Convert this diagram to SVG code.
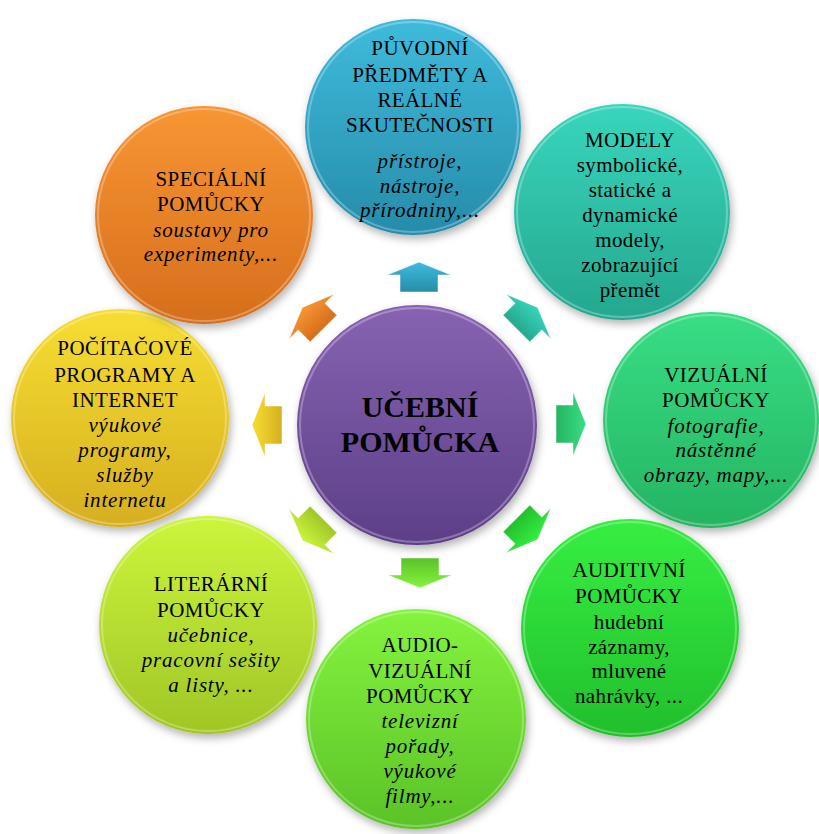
<svg xmlns="http://www.w3.org/2000/svg" width="819" height="834" viewBox="0 0 819 834">
<defs>
<style>
.t{font-family:"Liberation Serif","Times New Roman",serif;font-size:21px;fill:#000;text-anchor:middle;letter-spacing:0.4px}
.i{font-style:italic;letter-spacing:0.8px}
.c{font-family:"Liberation Serif","Times New Roman",serif;font-size:30px;font-weight:bold;fill:#000;text-anchor:middle}
.rim{fill:none;stroke:#fff;stroke-opacity:0.28;stroke-width:2}
.ar{stroke:#fff;stroke-opacity:0.5;stroke-width:1}
</style>
<filter id="sh" x="-20%" y="-20%" width="140%" height="140%">
<feDropShadow dx="2" dy="4" stdDeviation="4" flood-color="#000" flood-opacity="0.3"/>
</filter>
<linearGradient id="gB" x1="0" y1="0" x2="0" y2="1"><stop offset="0" stop-color="#3FBBDC"/><stop offset="1" stop-color="#268CAA"/></linearGradient>
<linearGradient id="gT" x1="0" y1="0" x2="0" y2="1"><stop offset="0" stop-color="#38D6BC"/><stop offset="1" stop-color="#25A78F"/></linearGradient>
<linearGradient id="gV" x1="0" y1="0" x2="0" y2="1"><stop offset="0" stop-color="#38DE85"/><stop offset="1" stop-color="#25B462"/></linearGradient>
<linearGradient id="gA" x1="0" y1="0" x2="0" y2="1"><stop offset="0" stop-color="#36EF42"/><stop offset="1" stop-color="#22BF2C"/></linearGradient>
<linearGradient id="gAV" x1="0" y1="0" x2="0" y2="1"><stop offset="0" stop-color="#84F43E"/><stop offset="1" stop-color="#5BC228"/></linearGradient>
<linearGradient id="gL" x1="0" y1="0" x2="0" y2="1"><stop offset="0" stop-color="#CCF53C"/><stop offset="1" stop-color="#A0C626"/></linearGradient>
<linearGradient id="gY" x1="0" y1="0" x2="0" y2="1"><stop offset="0" stop-color="#F7DE32"/><stop offset="1" stop-color="#D6AF20"/></linearGradient>
<linearGradient id="gO" x1="0" y1="0" x2="0" y2="1"><stop offset="0" stop-color="#F89634"/><stop offset="1" stop-color="#D56E1C"/></linearGradient>
<linearGradient id="gP" x1="0" y1="0" x2="0" y2="1"><stop offset="0" stop-color="#8763B2"/><stop offset="1" stop-color="#5C3F86"/></linearGradient>
<path id="arr" d="M0,-15 L32,-2 L19,-2 L19,15 L-19,15 L-19,-2 L-32,-2 Z"/>
</defs>

<g id="connectors">
<use href="#arr" class="ar" fill="url(#gB)" transform="translate(419,277)"/>
<use href="#arr" class="ar" fill="url(#gT)" transform="translate(527,318) rotate(45)"/>
<use href="#arr" class="ar" fill="url(#gV)" transform="translate(571,424) rotate(90)"/>
<use href="#arr" class="ar" fill="url(#gA)" transform="translate(527,529) rotate(135)"/>
<use href="#arr" class="ar" fill="url(#gAV)" transform="translate(420,573) rotate(180)"/>
<use href="#arr" class="ar" fill="url(#gL)" transform="translate(313,530) rotate(225)"/>
<use href="#arr" class="ar" fill="url(#gY)" transform="translate(267,425) rotate(270)"/>
<use href="#arr" class="ar" fill="url(#gO)" transform="translate(313,318) rotate(315)"/>
</g>

<g id="pocitacove">
<circle cx="120" cy="418" r="109" fill="url(#gY)" filter="url(#sh)"/>
<circle cx="120" cy="418" r="106" class="rim"/>
<text class="t" x="125" y="355">POČÍTAČOVÉ</text>
<text class="t" x="125" y="382">PROGRAMY A</text>
<text class="t" x="125" y="407">INTERNET</text>
<text class="t i" x="125" y="432">výukové</text>
<text class="t i" x="125" y="457">programy,</text>
<text class="t i" x="125" y="482">služby</text>
<text class="t i" x="125" y="507">internetu</text>
</g>

<g id="literarni">
<circle cx="208" cy="625" r="109" fill="url(#gL)" filter="url(#sh)"/>
<circle cx="208" cy="625" r="106" class="rim"/>
<text class="t" x="211" y="591">LITERÁRNÍ</text>
<text class="t" x="211" y="617">POMŮCKY</text>
<text class="t i" x="211" y="642">učebnice,</text>
<text class="t i" x="211" y="667">pracovní sešity</text>
<text class="t i" x="211" y="692">a listy, ...</text>
</g>

<g id="audiovizualni">
<circle cx="416" cy="719" r="110" fill="url(#gAV)" filter="url(#sh)"/>
<circle cx="416" cy="719" r="107" class="rim"/>
<text class="t" x="420" y="652">AUDIO-</text>
<text class="t" x="420" y="678">VIZUÁLNÍ</text>
<text class="t" x="420" y="703">POMŮCKY</text>
<text class="t i" x="420" y="728">televizní</text>
<text class="t i" x="420" y="753">pořady,</text>
<text class="t i" x="420" y="778">výukové</text>
<text class="t i" x="420" y="803">filmy,...</text>
</g>

<g id="auditivni">
<circle cx="630" cy="628" r="109" fill="url(#gA)" filter="url(#sh)"/>
<circle cx="630" cy="628" r="106" class="rim"/>
<text class="t" x="629" y="577">AUDITIVNÍ</text>
<text class="t" x="629" y="603">POMŮCKY</text>
<text class="t" x="629" y="629">hudební</text>
<text class="t" x="629" y="654">záznamy,</text>
<text class="t" x="629" y="678">mluvené</text>
<text class="t" x="629" y="703">nahrávky, ...</text>
</g>

<g id="vizualni">
<circle cx="711" cy="420" r="108" fill="url(#gV)" filter="url(#sh)"/>
<circle cx="711" cy="420" r="105" class="rim"/>
<text class="t" x="716" y="382">VIZUÁLNÍ</text>
<text class="t" x="716" y="407">POMŮCKY</text>
<text class="t i" x="716" y="433">fotografie,</text>
<text class="t i" x="716" y="457">nástěnné</text>
<text class="t i" x="716" y="482">obrazy, mapy,...</text>
</g>

<g id="modely">
<circle cx="622" cy="212" r="108" fill="url(#gT)" filter="url(#sh)"/>
<circle cx="622" cy="212" r="105" class="rim"/>
<text class="t" x="630" y="147">MODELY</text>
<text class="t" x="630" y="172">symbolické,</text>
<text class="t" x="630" y="197">statické a</text>
<text class="t" x="630" y="222">dynamické</text>
<text class="t" x="630" y="247">modely,</text>
<text class="t" x="630" y="272">zobrazující</text>
<text class="t" x="630" y="297">přemět</text>
</g>

<g id="specialni">
<circle cx="204" cy="215" r="109" fill="url(#gO)" filter="url(#sh)"/>
<circle cx="204" cy="215" r="106" class="rim"/>
<text class="t" x="211" y="186">SPECIÁLNÍ</text>
<text class="t" x="211" y="211">POMŮCKY</text>
<text class="t i" x="211" y="237">soustavy pro</text>
<text class="t i" x="211" y="261">experimenty,...</text>
</g>

<g id="puvodni">
<circle cx="413" cy="127" r="108" fill="url(#gB)" filter="url(#sh)"/>
<circle cx="413" cy="127" r="105" class="rim"/>
<text class="t" x="420" y="55">PŮVODNÍ</text>
<text class="t" x="420" y="82">PŘEDMĚTY A</text>
<text class="t" x="420" y="107">REÁLNÉ</text>
<text class="t" x="420" y="132">SKUTEČNOSTI</text>
<text class="t i" x="420" y="168">přístroje,</text>
<text class="t i" x="420" y="193">nástroje,</text>
<text class="t i" x="420" y="217">přírodniny,...</text>
</g>

<g id="ucebni">
<circle cx="417" cy="425" r="120" fill="url(#gP)" filter="url(#sh)"/>
<circle cx="417" cy="425" r="117" class="rim"/>
<text class="c" x="420" y="417">UČEBNÍ</text>
<text class="c" x="420" y="452">POMŮCKA</text>
</g>
</svg>
